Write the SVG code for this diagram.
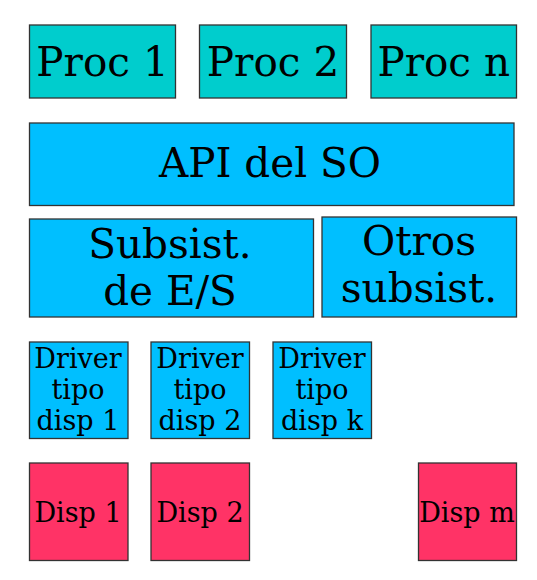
<svg xmlns="http://www.w3.org/2000/svg" width="537" height="580" viewBox="0 0 537 580">
<style>
rect{stroke:#333;stroke-width:1.3}
.p{fill:#00CDCD}
.b{fill:#00BFFF}
.r{fill:#FF3366}
text{font-family:"DejaVu Serif",serif;fill:#000;text-anchor:middle}
.L{font-size:40.5px}
.M{font-size:40.5px}
.S{font-size:27px}
</style>
<rect width="537" height="580" fill="#fff" style="stroke:none"/>
<g id="proc1"><rect class="p" x="29.5" y="25" width="146" height="73"/><text class="L" x="102.5" y="76">Proc 1</text></g>
<g id="proc2"><rect class="p" x="199.5" y="25" width="147" height="73"/><text class="L" x="273" y="76">Proc 2</text></g>
<g id="procn"><rect class="p" x="371" y="25" width="145.5" height="73"/><text class="L" x="443.7" y="76">Proc n</text></g>
<g id="api"><rect class="b" x="29.5" y="123" width="484.5" height="82.5"/><text class="L" x="270" y="177">API del SO</text></g>
<g id="es"><rect class="b" x="29.5" y="219" width="284" height="98"/><text class="M" x="170" y="257.5">Subsist.</text><text class="M" x="170" y="305">de E/S</text></g>
<g id="otros"><rect class="b" x="322" y="217" width="194.5" height="100"/><text class="M" x="419" y="255">Otros</text><text class="M" x="419" y="302">subsist.</text></g>
<g id="drv1"><rect class="b" x="29.5" y="342" width="98.5" height="96.5"/><text class="S" x="78" y="367.5">Driver</text><text class="S" x="78" y="398.5">tipo</text><text class="S" x="78" y="430">disp 1</text></g>
<g id="drv2"><rect class="b" x="151" y="342" width="98.5" height="96.5"/><text class="S" x="200" y="367.5">Driver</text><text class="S" x="200" y="398.5">tipo</text><text class="S" x="200" y="430">disp 2</text></g>
<g id="drvk"><rect class="b" x="273" y="342" width="98.5" height="96.5"/><text class="S" x="322" y="367.5">Driver</text><text class="S" x="322" y="398.5">tipo</text><text class="S" x="322" y="430">disp k</text></g>
<g id="disp1"><rect class="r" x="29.5" y="463" width="98.5" height="97.5"/><text class="S" x="78" y="522">Disp 1</text></g>
<g id="disp2"><rect class="r" x="151" y="463" width="98.5" height="97.5"/><text class="S" x="200" y="522">Disp 2</text></g>
<g id="dispm"><rect class="r" x="418.5" y="463" width="98" height="97.5"/><text class="S" x="467" y="522">Disp m</text></g>
<g id="connectors"></g>
</svg>
